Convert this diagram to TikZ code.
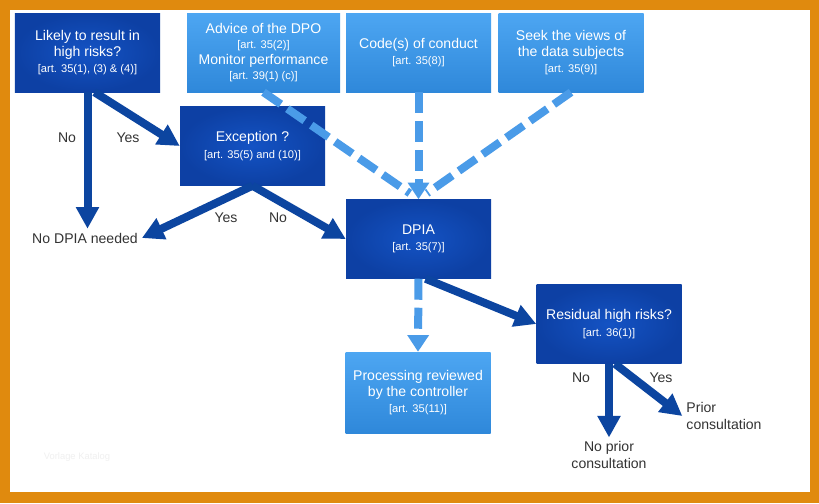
\documentclass[tikz,border=0pt]{standalone}
\usepackage{fontspec}
\setmainfont{Liberation Sans}
\usetikzlibrary{arrows.meta}

\definecolor{frameorange}{HTML}{E08A0E}
\definecolor{darkin}{HTML}{1453C4}
\definecolor{darkout}{HTML}{0D40A4}
\definecolor{lighttop}{HTML}{4DA6F2}
\definecolor{lightbot}{HTML}{2F88DA}
\definecolor{arrowdark}{HTML}{0C45A0}
\definecolor{arrowlight}{HTML}{4A9BE8}
\definecolor{answergray}{HTML}{333333}

\newcommand{\artref}[1]{{\fontsize{9.5}{11}\selectfont #1}}

\tikzset{
  box/.style={minimum width=43.5mm,minimum height=23.7mm,inner sep=2pt,
    align=center,text=white,font=\fontsize{12}{14}\selectfont},
  darkbox/.style={box,inner color=darkin,outer color=darkout},
  lightbox/.style={box,top color=lighttop,bottom color=lightbot},
  darkarrow/.style={draw=arrowdark,line width=2.4mm,
    -{Triangle[length=6.5mm,width=6.6mm]}},
  lightarrow/.style={draw=arrowlight,line width=2.4mm,
    dash pattern=on 6.3mm off 2.4mm,-{Triangle[length=5mm,width=6.2mm]}},
  lightline/.style={draw=arrowlight,line width=2.4mm,
    dash pattern=on 6.3mm off 2.4mm},
  answer/.style={text=answergray,font=\fontsize{12}{14}\selectfont,align=center}
}

\begin{document}
\begin{tikzpicture}[x=0.3mm,y=-0.3mm]

\useasboundingbox (0,0) rectangle (819,503);
\fill[frameorange] (0,0) rectangle (819,503);
\fill[white] (10,10) rectangle (810,492);

% boxes
\node[darkbox] (likely) at (87.5,52.5) {Likely to result in\\ high risks?\\ \artref{[art. 35(1), (3) \& (4)]}};
\node[lightbox,minimum width=45.9mm] (advice) at (263.5,52.5) {Advice of the DPO\\[-1pt] \artref{[art. 35(2)]}\\[-1pt] Monitor performance\\[-1pt] \artref{[art. 39(1) (c)]}};
\node[lightbox] (code) at (418.5,52.5) {Code(s) of conduct\\ \artref{[art. 35(8)]}};
\node[lightbox] (seek) at (571,52.5) {Seek the views of\\ the data subjects\\ \artref{[art. 35(9)]}};
\node[darkbox] (except) at (252.5,146) {Exception ?\\ \artref{[art. 35(5) and (10)]}};
\node[darkbox] (dpia) at (418.5,239) {DPIA\\ \artref{[art. 35(7)]}};
\node[lightbox,minimum height=24.3mm] (review) at (418,392.5) {Processing reviewed\\ by the controller\\ \artref{[art. 35(11)]}};
\node[darkbox] (residual) at (609,324) {Residual high risks?\\ \artref{[art. 36(1)]}};

% outcomes
\node[answer] (nodpia) at (85,238) {No DPIA needed};
\node[answer] (noprior) at (609,455) {No prior\\ consultation};
\node[answer,align=left] (prior) at (724,416) {Prior\\ consultation};

% answers
\node[answer] (likelyno) at (67,138) {No};
\node[answer] (likelyyes) at (128,138) {Yes};
\node[answer] (exceptyes) at (226,218) {Yes};
\node[answer] (exceptno) at (278,218) {No};
\node[answer] (residualno) at (581,378) {No};
\node[answer] (residualyes) at (661,378) {Yes};

\node[text=gray!12,font=\fontsize{8}{9}\selectfont] (mark) at (77,457) {Vorlage Katalog};

% inputs to the DPIA
\draw[lightline,shorten >=9] (advice.south) -- (dpia.north);
\draw[lightline,shorten >=9] (seek.south) -- (dpia.north);
\draw[lightarrow] (code.south) -- (dpia.north);
\draw[lightarrow] (dpia.south) -- (review.north);

% decisions
\draw[darkarrow] (likely.south) -- (likely.south |- nodpia.north);
\draw[darkarrow] ([xshift=6]likely.south) -- (except.west);
\draw[darkarrow] (except.south) -- (nodpia.east);
\draw[darkarrow] (except.south) -- (dpia.west);
\draw[darkarrow] ([xshift=6]dpia.south) -- (residual.west);
\draw[darkarrow] (residual.south) -- (noprior.north);
\draw[darkarrow] ([xshift=5]residual.south) -- (prior.west);

\end{tikzpicture}
\end{document}
